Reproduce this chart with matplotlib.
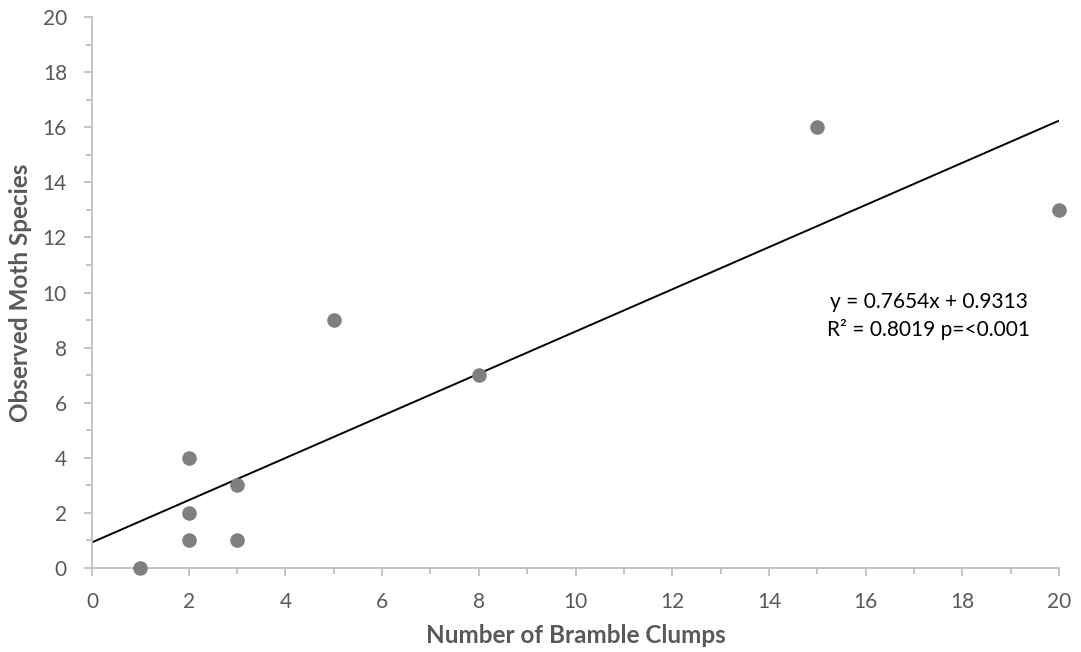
import matplotlib.pyplot as plt
from matplotlib.ticker import MultipleLocator

# Bramble clumps vs observed moth species per site
clumps = [1, 2, 2, 2, 3, 3, 5, 8, 15, 20]
species = [0, 4, 2, 1, 3, 1, 9, 7, 16, 13]

# Linear trendline and fit statistics
slope = 0.7654
intercept = 0.9313
r_squared = 0.8019
trend_x = [0, 20]

plt.rcParams['font.family'] = ['Lato', 'DejaVu Sans']
text_col = '#595959'
axis_col = '#bfbfbf'

fig = plt.figure(figsize=(10.81, 6.52), dpi=100)
ax = fig.add_axes([0.0851, 0.1288, 0.8946, 0.8451])

ax.scatter(clumps, species, s=110, color='#7f7f7f', zorder=3, linewidths=0, clip_on=False)
ax.plot(trend_x, [slope * x + intercept for x in trend_x], color='black', lw=1.4, zorder=2)

ax.text(17.3, 9.65, 'y = %.4fx + %.4f' % (slope, intercept), ha='center', va='center',
        fontsize=15, color='black')
ax.text(17.3, 8.64, 'R² = %.4f p=<0.001' % r_squared, ha='center', va='center',
        fontsize=15, color='black')

ax.set_xlim(0, 20)
ax.set_ylim(0, 20)
ax.xaxis.set_major_locator(MultipleLocator(2))
ax.xaxis.set_minor_locator(MultipleLocator(1))
ax.yaxis.set_major_locator(MultipleLocator(2))
ax.yaxis.set_minor_locator(MultipleLocator(1))

for side in ['top', 'right']:
    ax.spines[side].set_visible(False)
for side in ['left', 'bottom']:
    ax.spines[side].set_color(axis_col)
    ax.spines[side].set_linewidth(1.3)

ax.tick_params(which='major', length=6, width=1.3, color=axis_col, labelcolor=text_col,
               labelsize=15)
ax.tick_params(which='minor', length=4, width=1.3, color=axis_col)
ax.tick_params(axis='x', which='major', pad=11)
ax.tick_params(axis='y', which='major', pad=12)

ax.set_xlabel('Number of Bramble Clumps', fontsize=17.5, fontweight='bold', color=text_col, labelpad=9)
ax.set_ylabel('Observed Moth Species', fontsize=17.5, fontweight='bold', color=text_col, labelpad=8)

fig.savefig('out.png', dpi=100)
